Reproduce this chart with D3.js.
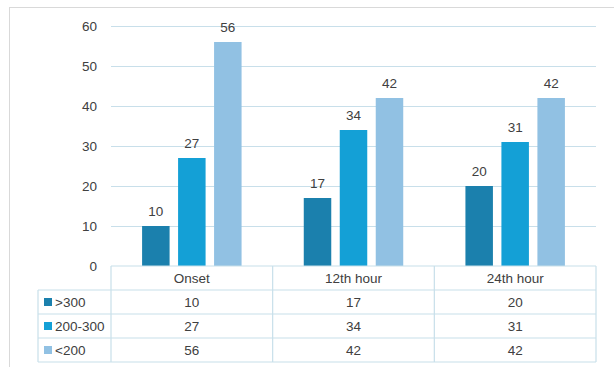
<!DOCTYPE html>
<html><head><meta charset="utf-8">
<script src="https://cdn.jsdelivr.net/npm/d3@7"></script>
<style>body{margin:0;background:#fff}svg{display:block}text{font-family:"Liberation Sans",Arial,sans-serif}</style>
</head><body>
<svg id="c" width="614" height="367"></svg>
<script>
const categories = ["Onset", "12th hour", "24th hour"];
const seriesNames = [">300", "200-300", "<200"];
const seriesGt300 = [10, 17, 20];
const series200to300 = [27, 34, 31];
const seriesLt200 = [56, 42, 42];
const yTicks = [0, 10, 20, 30, 40, 50, 60];
const colors = ["#1B80AD", "#14A0D6", "#91C1E3"];

(function () {
const seriesValues = [seriesGt300, series200to300, seriesLt200];
const svg = d3.select("#c");
const pLeft = 111, pRight = 596, pTop = 26, base = 266;
const gridColor = "#C8DFEA", textColor = "#404040", fs = 13.5;

// outer border
svg.append("rect").attr("x", 9.5).attr("y", 7.5).attr("width", 700).attr("height", 400)
  .attr("fill", "none").attr("stroke", "#D9D9D9");

const x0 = d3.scaleBand().domain(categories).range([pLeft, pRight]);
const x1 = d3.scaleBand().domain(seriesNames).range([0, x0.bandwidth()]).paddingInner(0.236).paddingOuter(0.864);
const y = d3.scaleLinear().domain([0, 60]).range([base, pTop]);

// gridlines
svg.append("g").selectAll("line").data(yTicks.filter(d => d > 0)).join("line")
  .attr("x1", pLeft).attr("x2", pRight).attr("y1", d => Math.round(y(d)) + 0.5).attr("y2", d => Math.round(y(d)) + 0.5)
  .attr("stroke", gridColor).attr("stroke-width", 1.2);

// y labels
svg.append("g").selectAll("text").data(yTicks).join("text")
  .attr("x", 97).attr("y", d => y(d)).attr("dy", "0.35em").attr("text-anchor", "end")
  .attr("font-size", fs).attr("fill", textColor).text(d => d);

// bars
const groups = svg.append("g").selectAll("g").data(categories).join("g")
  .attr("transform", d => `translate(${x0(d)},0)`);
seriesNames.forEach((s, si) => {
  groups.append("rect")
    .attr("x", x1(s)).attr("width", x1.bandwidth())
    .attr("y", (d, i) => y(seriesValues[si][i]))
    .attr("height", (d, i) => base - y(seriesValues[si][i]))
    .attr("fill", colors[si]);
  groups.append("text")
    .attr("x", x1(s) + x1.bandwidth() / 2)
    .attr("y", (d, i) => y(seriesValues[si][i]) - 10)
    .attr("text-anchor", "middle").attr("font-size", fs).attr("fill", textColor)
    .text((d, i) => seriesValues[si][i]);
});

// data table
const tLeft = 38, rowH = 24;
const rowTops = [base, base + rowH, base + 2 * rowH, base + 3 * rowH, base + 4 * rowH];
const tg = svg.append("g").attr("stroke", gridColor).attr("stroke-width", 1.2);
tg.append("line").attr("x1", pLeft).attr("x2", pRight).attr("y1", rowTops[0]).attr("y2", rowTops[0]);
[1, 2, 3, 4].forEach(r => tg.append("line").attr("x1", tLeft).attr("x2", pRight)
  .attr("y1", rowTops[r]).attr("y2", rowTops[r]));
tg.append("line").attr("x1", tLeft).attr("x2", tLeft).attr("y1", rowTops[1]).attr("y2", rowTops[4]);
[pLeft, ...categories.map(c => x0(c) + x0.bandwidth())].forEach(xv =>
  tg.append("line").attr("x1", xv).attr("x2", xv).attr("y1", rowTops[0]).attr("y2", rowTops[4]));

// header
svg.append("g").selectAll("text").data(categories).join("text")
  .attr("x", d => x0(d) + x0.bandwidth() / 2).attr("y", rowTops[0] + rowH / 2).attr("dy", "0.35em")
  .attr("text-anchor", "middle").attr("font-size", fs).attr("fill", textColor).text(d => d);

// rows
seriesNames.forEach((s, si) => {
  const cy = rowTops[si + 1] + rowH / 2;
  svg.append("rect").attr("x", 44).attr("y", cy - 4).attr("width", 8).attr("height", 8).attr("fill", colors[si]);
  svg.append("text").attr("x", 55).attr("y", cy).attr("dy", "0.35em").attr("font-size", fs)
    .attr("fill", textColor).text(s);
  svg.append("g").selectAll("text").data(categories).join("text")
    .attr("x", d => x0(d) + x0.bandwidth() / 2).attr("y", cy).attr("dy", "0.35em")
    .attr("text-anchor", "middle").attr("font-size", fs).attr("fill", textColor)
    .text((d, i) => seriesValues[si][i]);
});
})();
</script>
</body></html>
